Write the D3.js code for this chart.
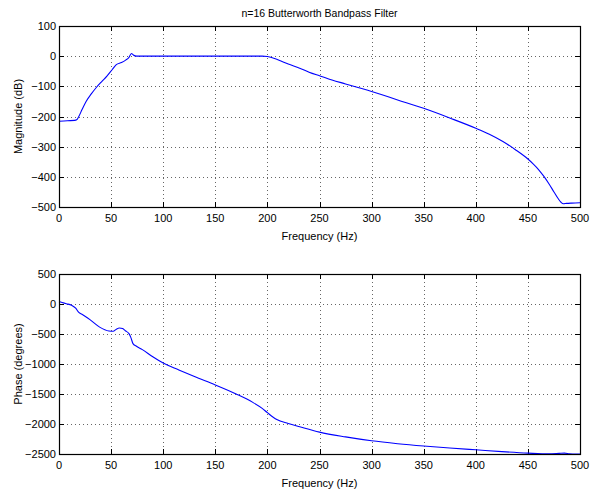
<!DOCTYPE html>
<html><head><meta charset="utf-8">
<script src="https://cdn.jsdelivr.net/npm/d3@7"></script>
<style>
body{margin:0;background:#fff;}
text{font-family:"Liberation Sans",Arial,Helvetica,sans-serif;fill:#000;}
</style></head>
<body><svg id="c" width="591" height="490"></svg>
<script>
const title = "n=16 Butterworth Bandpass Filter";
const xLabel = "Frequency (Hz)";
const magLabel = "Magnitude (dB)";
const phaseLabel = "Phase (degrees)";
const xTicks = [0,50,100,150,200,250,300,350,400,450,500];
const magTicks = [100,0,-100,-200,-300,-400,-500];
const phaseTicks = [500,0,-500,-1000,-1500,-2000,-2500];

const magFreq = [0,8,15,17,19,22,26,31,36,41,46,51,55,60,64,67,69.5,71,73,76,100,150,195,200,210,220,231,240,250,262,275,287,300,325,350,375,400,413,426,438,450,455,460,465,470,475,479,482,484,487,492,500];
const magDb   = [-216,-214,-213,-211,-200,-178,-150,-125,-103,-84,-66,-45,-28,-21,-13,-5,9,5,1,0,0,0,0,-1,-12,-26,-40,-53,-65,-79,-92,-104,-117,-145,-173,-205,-239,-259,-283,-310,-341,-357,-375,-397,-422,-450,-472,-485,-489,-488,-487,-486];

const phFreq = [0,3,7,12,16,19,22,30,39,48,52,55,58,61,64,67,69,71,74,80,90,100,115,130,150,170,186,195,200,209,220,231,250,275,300,325,350,375,400,425,450,470,480,485,490,495,500];
const phDeg  = [40,25,5,-20,-70,-140,-170,-265,-385,-450,-455,-420,-400,-410,-450,-490,-560,-660,-700,-760,-880,-985,-1100,-1210,-1350,-1500,-1640,-1740,-1811,-1925,-1990,-2045,-2135,-2215,-2280,-2328,-2367,-2400,-2430,-2460,-2485,-2498,-2490,-2485,-2495,-2500,-2500];

const svg = d3.select("#c");
const L = 59, R = 580;
const fmt = v => (v < 0 ? "\u2212" + Math.abs(v) : String(v));

function panel(top, bottom, yDomain, yTicks, yLab, xs, ys) {
  const x = d3.scaleLinear().domain([0,500]).range([L,R]);
  const y = d3.scaleLinear().domain(yDomain).range([bottom,top]);
  const g = svg.append("g");
  g.selectAll(".gx").data(xTicks.slice(1,-1)).join("line")
    .attr("x1",d=>Math.round(x(d))+0.5).attr("x2",d=>Math.round(x(d))+0.5).attr("y1",top).attr("y2",bottom)
    .attr("stroke","#666").attr("stroke-width",1).attr("stroke-dasharray","1,3");
  g.selectAll(".gy").data(yTicks.slice(1,-1)).join("line")
    .attr("y1",d=>Math.round(y(d))+0.5).attr("y2",d=>Math.round(y(d))+0.5).attr("x1",L).attr("x2",R)
    .attr("stroke","#666").attr("stroke-width",1).attr("stroke-dasharray","1,3");
  const tl = 5;
  g.selectAll(".tb").data(xTicks).join("line")
    .attr("x1",d=>Math.round(x(d))+0.5).attr("x2",d=>Math.round(x(d))+0.5).attr("y1",bottom).attr("y2",bottom-tl).attr("stroke","#000");
  g.selectAll(".tt").data(xTicks).join("line")
    .attr("x1",d=>Math.round(x(d))+0.5).attr("x2",d=>Math.round(x(d))+0.5).attr("y1",top).attr("y2",top+tl).attr("stroke","#000");
  g.selectAll(".tl").data(yTicks).join("line")
    .attr("y1",d=>Math.round(y(d))+0.5).attr("y2",d=>Math.round(y(d))+0.5).attr("x1",L).attr("x2",L+tl).attr("stroke","#000");
  g.selectAll(".tr").data(yTicks).join("line")
    .attr("y1",d=>Math.round(y(d))+0.5).attr("y2",d=>Math.round(y(d))+0.5).attr("x1",R).attr("x2",R-tl).attr("stroke","#000");
  const pts = xs.map((f,i)=>[f,ys[i]]);
  g.append("path").datum(pts)
    .attr("d", d3.line().x(d=>x(d[0])).y(d=>y(d[1])).curve(d3.curveMonotoneX))
    .attr("fill","none").attr("stroke","#0000ff").attr("stroke-width",1.1);
  g.append("rect").attr("x",L+0.5).attr("y",top+0.5).attr("width",R-L).attr("height",bottom-top)
    .attr("fill","none").attr("stroke","#000").attr("stroke-width",1.2);
  g.selectAll(".xl").data(xTicks).join("text")
    .attr("x",d=>x(d)).attr("y",bottom+15).attr("text-anchor","middle")
    .attr("font-size",11).text(d=>d);
  g.selectAll(".yl").data(yTicks).join("text")
    .attr("x",L-3).attr("y",d=>y(d)+4).attr("text-anchor","end")
    .attr("font-size",11).text(fmt);
  g.append("text").attr("x",(L+R)/2).attr("y",bottom+33).attr("text-anchor","middle")
    .attr("font-size",11).text(xLabel);
  g.append("text").attr("transform",`translate(22,${(top+bottom)/2}) rotate(-90)`)
    .attr("text-anchor","middle").attr("font-size",11).text(yLab);
}

panel(26, 207, [-500,100], magTicks, magLabel, magFreq, magDb);
panel(274, 454, [-2500,500], phaseTicks, phaseLabel, phFreq, phDeg);
svg.append("text").attr("x",(L+R)/2).attr("y",17).attr("text-anchor","middle")
  .attr("font-size",10.5).text(title);
</script></body></html>
